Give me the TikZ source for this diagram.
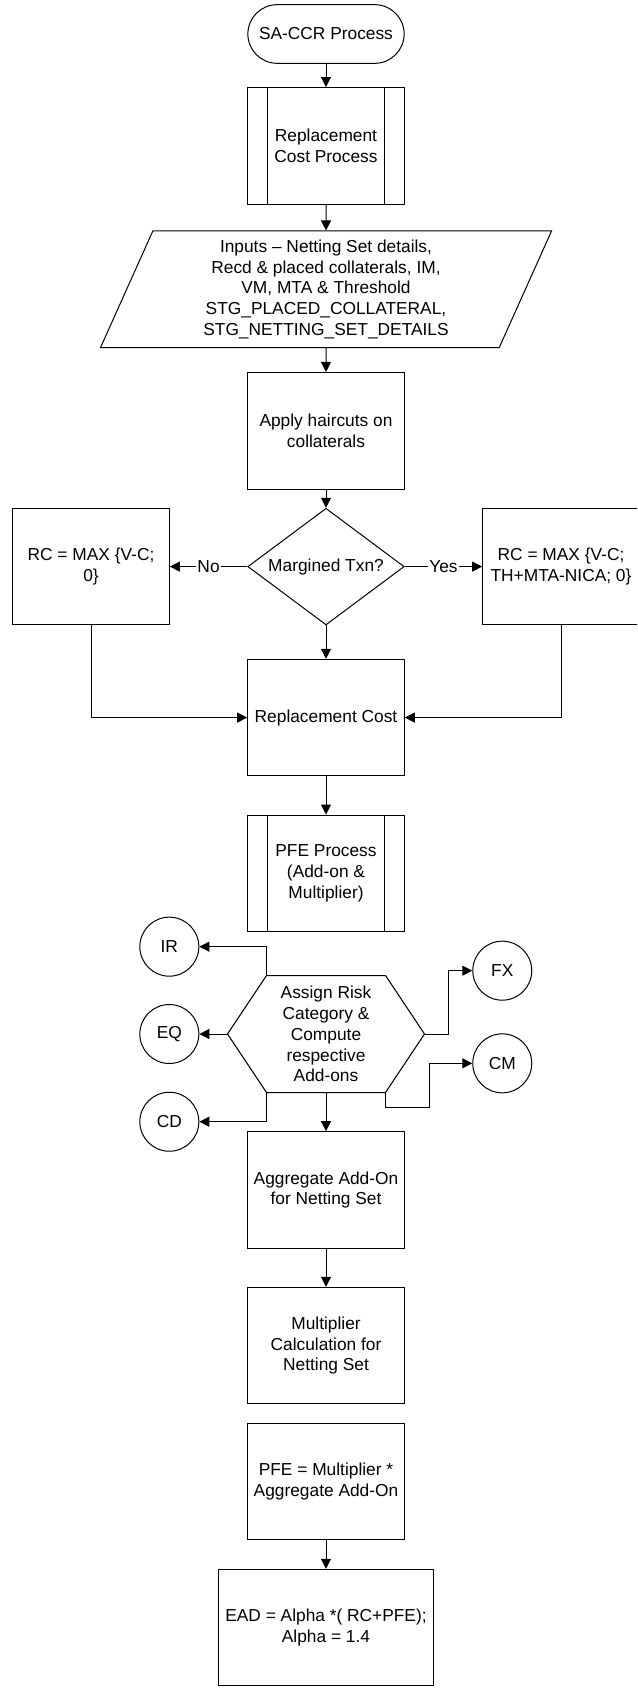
\documentclass[tikz,border=0pt]{standalone}
\usepackage{fontspec}
\setmainfont{Liberation Sans}
\usetikzlibrary{shapes,arrows.meta,positioning,calc}
\tikzstyle{block} = [draw, rectangle, align=center, minimum width=117.5pt, minimum height=87.5pt, inner sep=1pt]
\tikzstyle{term} = [draw, rectangle, rounded corners=22pt, minimum width=117.2pt, minimum height=44pt]
\tikzstyle{subproc} = [block, path picture={
    \draw ([xshift=14.7pt]path picture bounding box.north west) -- ([xshift=14.7pt]path picture bounding box.south west);
    \draw ([xshift=-14.7pt]path picture bounding box.north east) -- ([xshift=-14.7pt]path picture bounding box.south east);}]
\tikzstyle{io} = [draw, trapezium, trapezium left angle=62.8, trapezium right angle=117.2, trapezium stretches body, align=center, minimum width=338.3pt, minimum height=87.5pt, inner sep=1pt]
\tikzstyle{decision} = [draw, diamond, aspect=1.34, minimum width=117.3pt, minimum height=87.5pt, inner sep=0pt]
\tikzstyle{hexbody} = [rectangle, align=center, minimum width=88.5pt, minimum height=87pt, inner sep=0pt]
\tikzstyle{cat} = [draw, circle, minimum size=44.25pt, inner sep=0pt]
\tikzstyle{lbl} = [fill=white, inner sep=1pt]

\begin{document}
\begin{tikzpicture}[node distance=117pt, >={Triangle[length=7.5pt,width=7.5pt]}, line width=0.75pt, font=\fontsize{13pt}{15.6pt}\selectfont]
    \useasboundingbox (0,0) rectangle (477.75pt,-1267.5pt);
    \clip (0,0) rectangle (477.75pt,-1267.5pt);
    % Main column
    \node [term] (start) at (244.5pt,-25.5pt) {SA-CCR Process};
    \node [subproc, below of=start, node distance=83.9pt] (rcproc) {Replacement\\Cost Process};
    \node [io, below of=rcproc, node distance=107.6pt] (inputs) {Inputs -- Netting Set details,\\Recd \& placed collaterals, IM,\\VM, MTA \& Threshold\\STG\_PLACED\_COLLATERAL,\\STG\_NETTING\_SET\_DETAILS};
    \node [block, below of=inputs, node distance=106.1pt] (haircut) {Apply haircuts on\\collaterals};
    \node [decision, below of=haircut, node distance=101.85pt] (margined) {Margined Txn?};
    \node [block, left of=margined, node distance=176.25pt] (rcno) {RC = MAX \{V-C;\\0\}};
    \node [block, right of=margined, node distance=176.25pt] (rcyes) {RC = MAX \{V-C;\\TH+MTA-NICA; 0\}};
    \node [block, below of=margined, node distance=113.25pt] (rc) {Replacement Cost};
    \node [subproc, below of=rc, node distance=116.8pt] (pfeproc) {PFE Process\\(Add-on \&\\Multiplier)};
    \node [hexbody, below of=pfeproc, node distance=120.5pt] (assign) {Assign Risk\\Category \&\\Compute\\respective\\Add-ons};
    \node [cat, left of=assign, node distance=117.5pt] (eq) {EQ};
    \node [cat, above of=eq, node distance=65.5pt] (ir) {IR};
    \node [cat, below of=eq, node distance=65.8pt] (cd) {CD};
    \node [cat, right of=assign, node distance=132.2pt, yshift=47.5pt] (fx) {FX};
    \node [cat, right of=assign, node distance=132.2pt, yshift=-22pt] (cm) {CM};
    \node [block, below of=assign] (aggregate) {Aggregate Add-On\\for Netting Set};
    \node [block, below of=aggregate, node distance=116.7pt] (multiplier) {Multiplier\\Calculation for\\Netting Set};
    \node [block, below of=multiplier, node distance=102pt] (pfe) {PFE = Multiplier *\\Aggregate Add-On};
    \node [block, below of=pfe, node distance=109.5pt, minimum width=161.8pt] (ead) {EAD = Alpha *( RC+PFE);\\Alpha = 1.4};

    % Hexagon outline
    \coordinate (assignw) at ([xshift=-29.25pt]assign.west);
    \coordinate (assigne) at ([xshift=29.25pt]assign.east);
    \draw (assign.north west) -- (assign.north east) -- (assigne) -- (assign.south east) -- (assign.south west) -- (assignw) -- cycle;

    % Connections
    \draw [->] (start) -- (rcproc);
    \draw [->] (rcproc) -- (inputs);
    \draw [->] (inputs) -- (haircut);
    \draw [->] (haircut) -- (margined);
    \draw [->] (margined) -- node [lbl] {No} (rcno);
    \draw [->] (margined) -- node [lbl] {Yes} (rcyes);
    \draw [->] (margined) -- (rc);
    \draw [->] (rcno) |- (rc);
    \draw [->] (rcyes) |- (rc);
    \draw [->] (rc) -- (pfeproc);
    \draw [->] (assign.north west) |- (ir);
    \draw [->] (assignw) -- (eq);
    \draw [->] (assign.south west) |- (cd);
    \draw [->] (assigne) -- ++(17.8pt,0) |- (fx);
    \draw [->] (assign.south east) -- ++(0,-11.5pt) -| ([xshift=-32.1pt]cm.west) -- (cm);
    \draw [->] (assign) -- (aggregate);
    \draw [->] (aggregate) -- (multiplier);
    \draw [->] (pfe) -- (ead);
\end{tikzpicture}
\end{document}
